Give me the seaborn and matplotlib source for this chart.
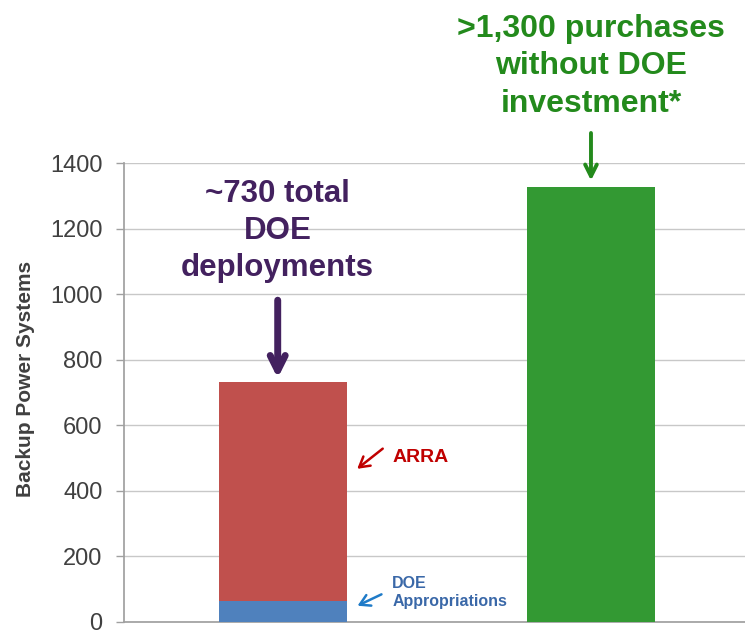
import matplotlib
matplotlib.use("Agg")
import matplotlib.pyplot as plt
import seaborn as sns
import numpy as np

# values
categories = ["DOE deployments", "Purchases without DOE"]
doe_appropriations = [65, 0]
arra = [667, 0]
without_doe = [0, 1326]
yticks = [0, 200, 400, 600, 800, 1000, 1200, 1400]

sns.set_theme(style="white")
plt.rcParams['font.family'] = ['Liberation Sans', 'DejaVu Sans']

totals = np.array(doe_appropriations) + np.array(arra) + np.array(without_doe)

fig = plt.figure(figsize=(7.45, 6.3), dpi=100)
ax = fig.add_axes([124 / 745, 8 / 630, 621 / 745, 459 / 630])

bw = 0.416
sns.barplot(x=categories, y=totals, hue=categories, order=categories,
            palette=["#C0504D", "#339933"], width=bw, saturation=1,
            linewidth=0, legend=False, ax=ax, zorder=3)
sns.barplot(x=categories, y=doe_appropriations, order=categories,
            color="#4F81BD", width=bw, saturation=1, linewidth=0,
            ax=ax, zorder=4)

ax.set_xlim(-0.516, 1.5)
ax.set_ylim(0, 1400)
ax.set_yticks(yticks)
ax.set_yticklabels([str(t) for t in yticks], fontsize=17, color="#404040")
ax.set_xticks([])
ax.set_xlabel("")
ax.set_ylabel("Backup Power Systems", fontsize=15, fontweight="bold",
              color="#404040")
ax.yaxis.set_label_coords(-0.143, 0.529)
ax.yaxis.grid(True, color="#C8C8C8", linewidth=1, zorder=0)
ax.set_axisbelow(True)
ax.tick_params(axis="y", length=6, width=1, color="#A0A0A0", left=True, pad=9.5)
for side in ["top", "right"]:
    ax.spines[side].set_visible(False)
ax.spines["left"].set_color("#A0A0A0")
ax.spines["bottom"].set_color("#A0A0A0")

# annotations
purple = "#43215F"
green = "#238A1C"
ax.text(-0.017, 1352, "~730 total\nDOE\ndeployments", ha="center", va="top",
        fontsize=22.5, fontweight="bold", color=purple, linespacing=1.32)
ax.annotate("", xy=(-0.017, 735), xytext=(-0.017, 990),
            arrowprops=dict(arrowstyle="->,head_length=0.9,head_width=0.45",
                            color=purple, lw=5))
ax.text(1, 1855, ">1,300 purchases\nwithout DOE\ninvestment*", ha="center",
        va="top", fontsize=23, fontweight="bold", color=green,
        linespacing=1.32, clip_on=False)
ax.annotate("", xy=(1, 1338), xytext=(1, 1500),
            arrowprops=dict(arrowstyle="->,head_length=0.7,head_width=0.35",
                            color=green, lw=2.8), annotation_clip=False)

ax.text(0.355, 503, "ARRA", ha="left", va="center", fontsize=14,
        fontweight="bold", color="#C00000")
ax.annotate("", xy=(0.234, 462), xytext=(0.331, 534),
            arrowprops=dict(arrowstyle="->,head_length=0.6,head_width=0.35",
                            color="#C00000", lw=1.8))
ax.text(0.355, 90, "DOE\nAppropriations", ha="left", va="center", fontsize=11.5,
        fontweight="bold", color="#3A68A8", linespacing=1.2)
ax.annotate("", xy=(0.234, 46), xytext=(0.328, 88),
            arrowprops=dict(arrowstyle="->,head_length=0.6,head_width=0.35",
                            color="#1F7BC8", lw=1.8))

fig.savefig("out.png", dpi=100)
